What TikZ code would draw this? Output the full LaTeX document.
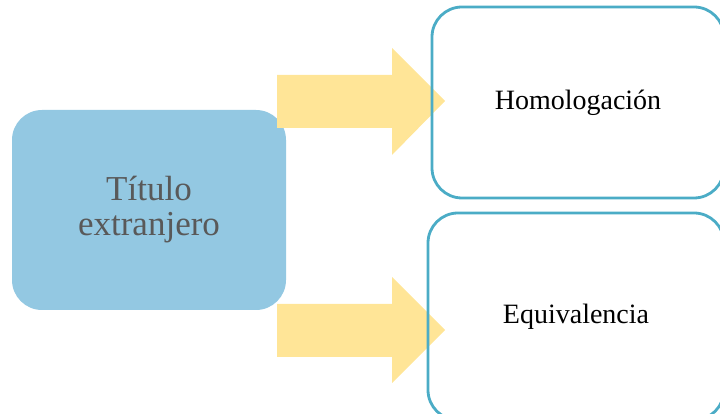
\documentclass[tikz,border=0pt]{standalone}
\usepackage{fontspec}
\setmainfont{Liberation Serif}
\usepackage{tikz}
\usetikzlibrary{calc}

\definecolor{titleblue}{HTML}{93C8E2}
\definecolor{arrowyellow}{HTML}{FFE597}
\definecolor{boxteal}{HTML}{4BACC6}
\definecolor{textgray}{HTML}{595959}

\begin{document}
\begin{tikzpicture}[x=1pt, y=1pt,
        title_style/.style={rectangle,rounded corners=30pt,fill=titleblue,draw=none,
            minimum width=274pt,minimum height=200pt,align=center,text=textgray,
            font=\fontsize{35}{35}\selectfont},
        target_style/.style={rectangle,rounded corners=30pt,draw=boxteal,line width=2.8pt,
            minimum width=292pt,minimum height=191pt,align=center,text=black,
            font=\fontsize{28}{30}\selectfont},
        arrow_style/.style={fill=arrowyellow,draw=none}]

        \clip (0,0) rectangle (720,414);

        \node [title_style](t1) at (149,204) {Título\\extranjero};

        \fill [arrow_style] (277,339) -- (392,339) -- (392,366) -- (445,313)
            -- (392,259) -- (392,286) -- (277,286) -- cycle;
        \fill [arrow_style] (277,110) -- (392,110) -- (392,137) -- (445,84)
            -- (392,31) -- (392,57) -- (277,57) -- cycle;

        \node [target_style](t2) at (578,311.5) {Homologación};
        \node [target_style, minimum width=296pt, minimum height=207pt](t3) at (576,97.5) {Equivalencia};
\end{tikzpicture}
\end{document}
